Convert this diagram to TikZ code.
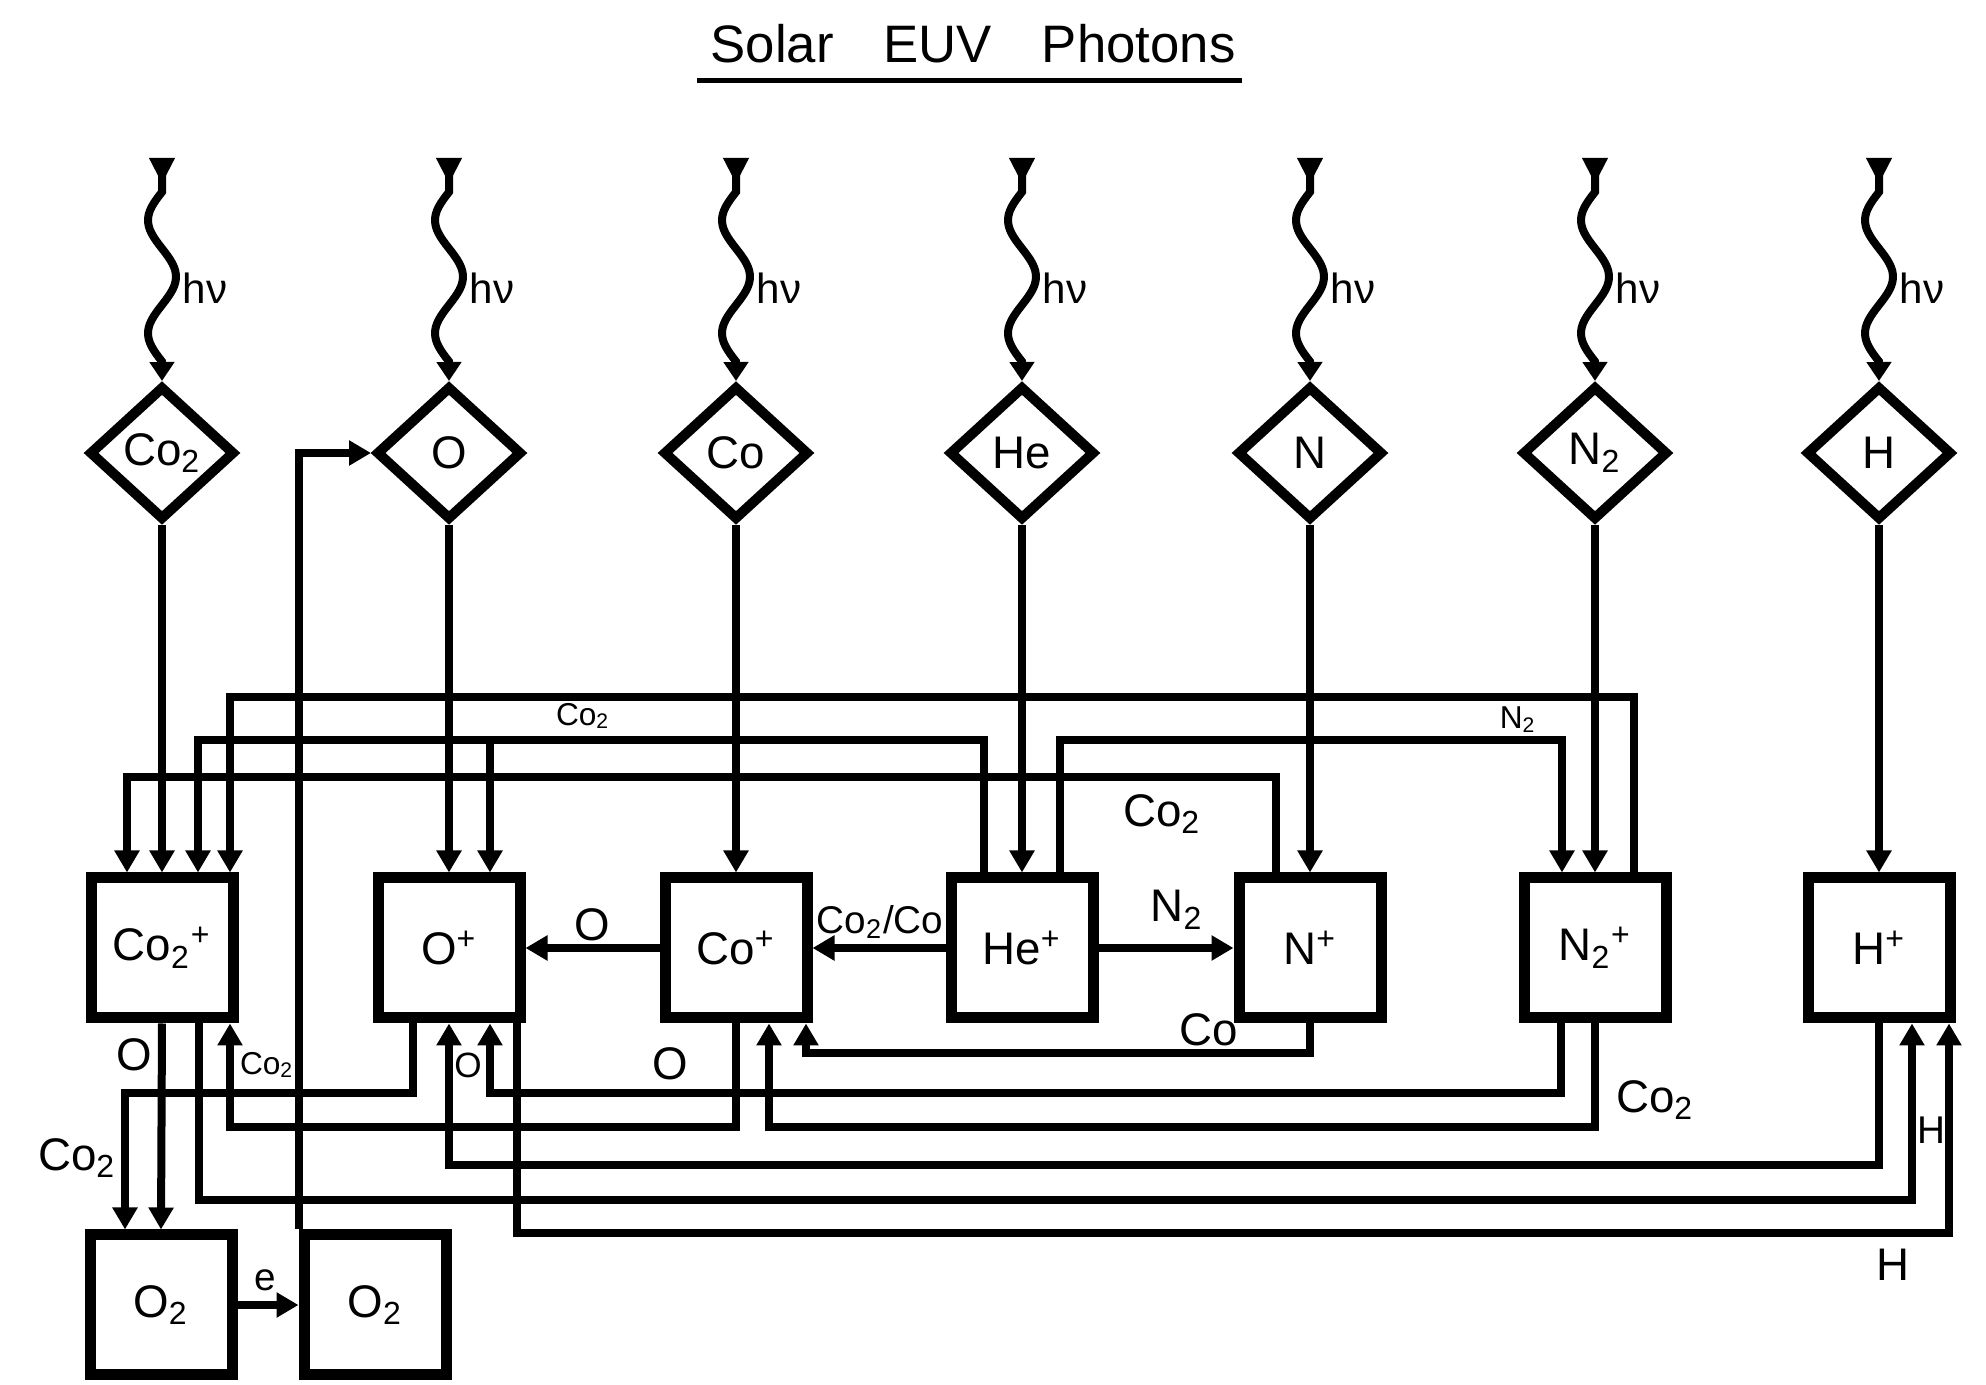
\documentclass[tikz,border=0pt]{standalone}
\usepackage{fontspec}
\setmainfont{Liberation Sans}
\usetikzlibrary{arrows.meta,shapes.geometric}
\tikzset{
  ionbox/.style  = {draw, line width=1.1mm, minimum width=14.2mm, minimum height=14mm,
                    inner sep=0pt, font=\fontsize{13}{15}\selectfont},
  neutral/.style = {draw, diamond, line width=1mm, minimum width=14.6mm,
                    minimum height=13.4mm, inner sep=0pt, font=\fontsize{13}{15}\selectfont},
  flow/.style    = {line width=0.8mm, -{Triangle[length=2.2mm,width=2.4mm]}},
  photon/.style  = {line width=0.8mm, {Triangle[reversed,length=2.6mm,width=2.4mm]}-{Triangle[length=1.9mm,width=2.4mm]}},
  lab/.style     = {inner sep=0pt, font=\fontsize{13}{15}\selectfont},
  tinylab/.style = {inner sep=0pt, font=\fontsize{9}{10}\selectfont},
}
\newcommand{\ionlabel}[2]{#1\textsubscript{#2}\textsuperscript{+}}

\begin{document}
\begin{tikzpicture}[x=0.1mm, y=-0.1mm]
  \useasboundingbox (0,0) rectangle (1986,1385);

  % title
  \node[inner sep=0pt, font=\fontsize{15}{17}\selectfont] (title) at (973,44) {Solar\hspace{5mm}EUV\hspace{5mm}Photons};
  \draw[line width=0.5mm] ([xshift=-1.3mm,yshift=-1.6mm]title.south west) -- ([xshift=0.6mm,yshift=-1.6mm]title.south east);

  % neutrals
  \node[neutral] (dco2) at (162,453)  {Co\textsubscript{2}};
  \node[neutral] (dO)   at (449,453)  {O};
  \node[neutral] (dco)  at (736,453)  {Co};
  \node[neutral] (dhe)  at (1022,453) {He};
  \node[neutral] (dn)   at (1310,453) {N};
  \node[neutral] (dn2)  at (1595,453) {N\textsubscript{2}};
  \node[neutral] (dh)   at (1879,453) {H};

  % ions
  \node[ionbox] (co2p) at (162,948)  {\ionlabel{Co}{2}};
  \node[ionbox] (op)   at (449,948)  {O\textsuperscript{+}};
  \node[ionbox] (cop)  at (736,948)  {Co\textsuperscript{+}};
  \node[ionbox] (hep)  at (1022,948) {He\textsuperscript{+}};
  \node[ionbox] (np)   at (1310,948) {N\textsuperscript{+}};
  \node[ionbox] (n2p)  at (1595,948) {\ionlabel{N}{2}};
  \node[ionbox] (hp)   at (1879,948) {H\textsuperscript{+}};
  \node[ionbox] (o2l)  at (161,1305) {O\textsubscript{2}};
  \node[ionbox] (o2r)  at (375,1305) {O\textsubscript{2}};

  % photons
  \foreach \nm/\xx in {dco2/162, dO/449, dco/736, dhe/1022, dn/1310, dn2/1595, dh/1879}{
    \coordinate (s\nm) at (\xx,158);
    \draw[photon] (s\nm) -- (\xx,192) -- plot[domain=0:1.5, samples=46, variable=\t] ({\xx-14*sin(\t*360)},{192+113*\t}) -- (\nm.north);
    \node[lab, font=\fontsize{12}{14}\selectfont, anchor=west] (hv\nm) at (\xx+20,288) {hν};
  }

  % bus levels
  \coordinate (yA) at (0,697);
  \coordinate (yB) at (0,740);
  \coordinate (yC) at (0,777);
  \coordinate (yD) at (0,1053);
  \coordinate (yE) at (0,1093);
  \coordinate (yF) at (0,1127);
  \coordinate (yG) at (0,1165);
  \coordinate (yH) at (0,1200);
  \coordinate (yI) at (0,1233);

  % photoionization
  \draw[flow] (dco2.south) -- (co2p.north);
  \draw[flow] (dO.south) -- (op.north);
  \draw[flow] (dco.south) -- (cop.north);
  \draw[flow] (dhe.south) -- (hep.north);
  \draw[flow] (dn.south) -- (np.north);
  \draw[flow] (dn2.south) -- (n2p.north);
  \draw[flow] (dh.south) -- (hp.north);

  % upper exchange
  \draw[flow] ([xshift=3.9mm]n2p.north) |- ([xshift=6.8mm]co2p.north |- yA) -- ([xshift=6.8mm]co2p.north);
  \draw[flow] ([xshift=-3.8mm]hep.north) |- ([xshift=3.6mm]co2p.north |- yB) -- ([xshift=3.6mm]co2p.north);
  \draw[flow] ([xshift=4.1mm]op.north |- yB) -- ([xshift=4.1mm]op.north);
  \draw[flow] ([xshift=3.8mm]hep.north) |- ([xshift=-3.3mm]n2p.north |- yB) -- ([xshift=-3.3mm]n2p.north);
  \draw[flow] ([xshift=-3.4mm]np.north) |- ([xshift=-3.5mm]co2p.north |- yC) -- ([xshift=-3.5mm]co2p.north);

  % side exchange
  \draw[flow] (cop.west) -- (op.east);
  \draw[flow] (hep.west) -- (cop.east);
  \draw[flow] (hep.east) -- (np.west);

  % lower exchange
  \draw[flow] (co2p.south) -- (o2l.north);
  \draw[flow] ([xshift=-3.6mm]op.south) |- ([xshift=-3.6mm]o2l.north |- yE) -- ([xshift=-3.6mm]o2l.north);
  \draw[flow] ([xshift=3.7mm]co2p.south) |- ([xshift=3.3mm]hp.south |- yH) -- ([xshift=3.3mm]hp.south);
  \draw[flow] (cop.south) |- ([xshift=6.8mm]co2p.south |- yF) -- ([xshift=6.8mm]co2p.south);
  \draw[flow] (n2p.south) |- ([xshift=3.3mm]cop.south |- yF) -- ([xshift=3.3mm]cop.south);
  \draw[flow] ([xshift=-3.4mm]n2p.south) |- ([xshift=4.1mm]op.south |- yE) -- ([xshift=4.1mm]op.south);
  \draw[flow] (hp.south) |- (op.south |- yG) -- (op.south);
  \draw[flow] ([xshift=6.8mm]op.south) |- ([xshift=7mm]hp.south |- yI) -- ([xshift=7mm]hp.south);
  \draw[flow] (np.south) |- ([xshift=7mm]cop.south |- yD) -- ([xshift=7mm]cop.south);
  \draw[flow] (o2l.east) -- (o2r.west);
  \draw[flow] (o2r.north west) |- (dO.west);

  % labels
  \node[tinylab] (lbA) at (583,716) {Co\textsubscript{2}};
  \node[tinylab] (lbB) at (1518,720) {N\textsubscript{2}};
  \node[lab] (lbC) at (1162,814) {Co\textsubscript{2}};
  \node[lab] (lbO1) at (592,925) {O};
  \node[lab, font=\fontsize{11}{13}\selectfont] (lbCC) at (880,922) {Co\textsubscript{2}/Co};
  \node[lab] (lbN2) at (1177,910) {N\textsubscript{2}};
  \node[lab] (lbO2) at (134,1055) {O};
  \node[lab] (lbC2) at (77,1158) {Co\textsubscript{2}};
  \node[tinylab] (lbC3) at (267,1065) {Co\textsubscript{2}};
  \node[lab, font=\fontsize{10}{12}\selectfont] (lbO3) at (468,1065) {O};
  \node[lab] (lbO4) at (670,1064) {O};
  \node[lab] (lbCo) at (1209,1030) {Co};
  \node[lab] (lbC4) at (1655,1100) {Co\textsubscript{2}};
  \node[lab, font=\fontsize{11}{13}\selectfont] (lbH1) at (1931,1130) {H};
  \node[lab] (lbH2) at (1893,1265) {H};
  \node[lab, font=\fontsize{11}{13}\selectfont] (lbe) at (265,1280) {e};
\end{tikzpicture}
\end{document}
